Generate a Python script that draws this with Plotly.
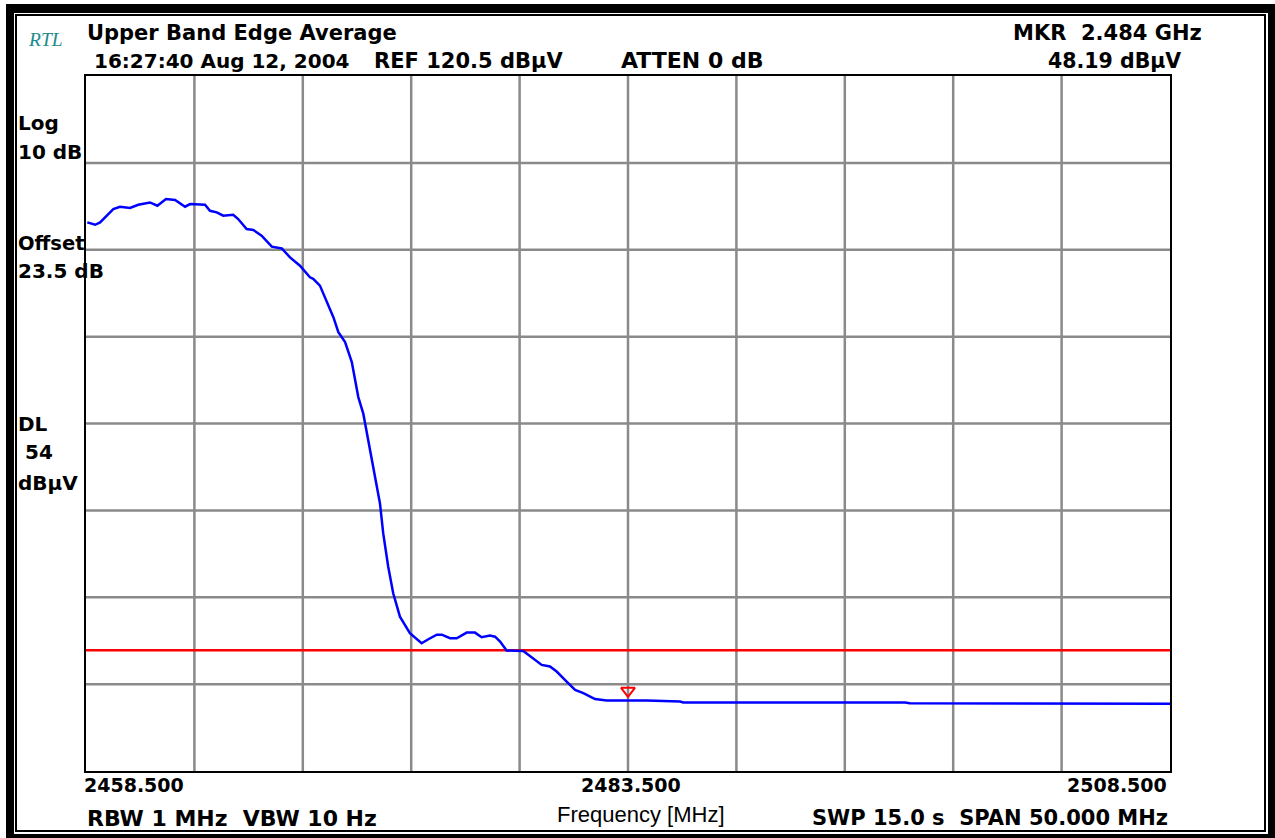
import plotly.graph_objects as go

# ---- data ----
freq_mhz = [2458.56, 2458.92, 2459.15, 2459.76, 2460.07, 2460.53, 2460.91, 2461.45, 2461.79, 2462.19,
            2462.61, 2463.07, 2463.30, 2463.99, 2464.22, 2464.53, 2464.83, 2465.29, 2465.52, 2465.91,
            2466.22, 2466.60, 2467.07, 2467.53, 2467.91, 2468.37, 2468.83, 2468.98, 2469.29, 2469.60,
            2469.91, 2470.14, 2470.45, 2470.76, 2471.06, 2471.29, 2471.60, 2471.83, 2472.06, 2472.21,
            2472.44, 2472.67, 2472.98, 2473.44, 2473.98, 2474.29, 2474.68, 2474.91, 2475.29, 2475.60,
            2476.06, 2476.44, 2476.75, 2477.13, 2477.37, 2477.60, 2477.90, 2478.67, 2479.13, 2479.52,
            2479.90, 2480.21, 2480.67, 2481.06, 2481.44, 2481.75, 2481.98, 2482.52, 2483.44, 2484.36,
            2485.90, 2486.05, 2486.82, 2496.28, 2496.50, 2508.50]
level_dbuv = [103.54, 103.27, 103.54, 105.09, 105.36, 105.21, 105.59, 105.85, 105.47, 106.25,
              106.13, 105.36, 105.67, 105.59, 104.89, 104.70, 104.32, 104.43, 103.93, 102.78,
              102.66, 102.00, 100.73, 100.53, 99.49, 98.53, 97.18, 97.00, 96.22, 94.49,
              92.56, 90.82, 89.67, 87.36, 83.31, 81.39, 77.15, 73.68, 70.99, 67.52,
              63.66, 60.58, 57.88, 55.96, 54.80, 55.26, 55.79, 55.79, 55.38, 55.38,
              56.03, 56.03, 55.49, 55.68, 55.56, 54.99, 53.95, 53.91, 53.07, 52.29,
              52.10, 51.52, 50.36, 49.40, 49.02, 48.63, 48.33, 48.17, 48.19, 48.17,
              48.05, 47.93, 47.93, 47.93, 47.84, 47.78]

display_line_dbuv = 54.0
marker_freq_mhz = 2483.5
marker_level_dbuv = 48.19
start_mhz = 2458.5
stop_mhz = 2508.5
ref_level = 120.5
bottom_level = 40.0
x_tick_labels = ["2458.500", "2483.500", "2508.500"]
x_tick_values = [2458.5, 2483.5, 2508.5]
n_xdiv = 10
n_ydiv = 8

W, H = 1275, 838
L, R, T, B = 86, 1170, 76, 771


def px(x):
    return (x - L) / (R - L)


def py(y):
    return (B - y) / (B - T)


fig = go.Figure()

fig.add_trace(go.Scatter(x=[start_mhz, stop_mhz], y=[display_line_dbuv, display_line_dbuv],
                         mode="lines", line=dict(color="#ff0000", width=2.5),
                         hoverinfo="skip", showlegend=False))
fig.add_trace(go.Scatter(x=freq_mhz, y=level_dbuv, mode="lines",
                         line=dict(color="#0000ff", width=2.5), showlegend=False))
fig.add_trace(go.Scatter(x=[marker_freq_mhz], y=[marker_level_dbuv + 1.1], mode="markers",
                         marker=dict(symbol="triangle-down-open", size=12, color="#ff0000",
                                     line=dict(width=2, color="#ff0000")),
                         showlegend=False))

shapes = []
grid_col = "#8a8a8a"
for k in range(1, n_xdiv):
    shapes.append(dict(type="line", xref="x domain", yref="y domain", x0=k / n_xdiv, x1=k / n_xdiv,
                       y0=0, y1=1, line=dict(color=grid_col, width=2.5), layer="below"))
for k in range(1, n_ydiv):
    shapes.append(dict(type="line", xref="x domain", yref="y domain", x0=0, x1=1,
                       y0=k / n_ydiv, y1=k / n_ydiv, line=dict(color=grid_col, width=2.5), layer="below"))


def rect(x0, y0, x1, y1):
    shapes.append(dict(type="rect", xref="paper", yref="paper", x0=px(x0), x1=px(x1),
                       y0=py(y0), y1=py(y1), fillcolor="black", line=dict(width=0), layer="above"))


# thick outer frame
rect(6, 4, 1275, 13)
rect(6, 4, 14, 838)
rect(1268, 4, 1275, 838)
rect(6, 834, 1275, 838)
# thin inner frame
rect(15, 14, 1266, 16)
rect(15, 14, 17, 832)
rect(1264, 14, 1266, 832)
rect(15, 830, 1266, 832)

fig.update_layout(shapes=shapes)

FONT = "DejaVu Sans"
ann = []


def text(s, x, y, size, anchor="left", bold=True, family=FONT, color="black"):
    ann.append(dict(text=("<b>%s</b>" % s) if bold else s, x=px(x), y=py(y), xref="paper", yref="paper",
                    xanchor=anchor, yanchor="middle", showarrow=False,
                    font=dict(family=family, size=size, color=color)))


text("<i>RTL</i>", 26, 40, 19.5, bold=False, family="Liberation Serif", color="#1a8c8c")
text("Upper Band Edge Average", 85, 33, 21)
text("16:27:40 Aug 12, 2004", 92, 61, 20)
text("REF 120.5 dBµV", 372, 61, 21)
text("ATTEN 0 dB", 619, 61, 22)
text("MKR  2.484 GHz", 1204, 33, 21, anchor="right")
text("48.19 dBµV", 1183, 61, 20.5, anchor="right")

text("Log", 16, 123, 20)
text("10 dB", 16, 152, 20)
text("Offset", 16, 243, 19.5)
text("23.5 dB", 16, 271, 20)
text("DL", 16, 424, 20)
text(" 54", 16, 452, 20)
text("dBµV", 16, 483, 20)

text(x_tick_labels[0], 82, 785, 19)
text(x_tick_labels[1], L + (x_tick_values[1] - start_mhz) / (stop_mhz - start_mhz) * (R - L) + 3, 785, 19, anchor="center")
text(x_tick_labels[2], 1169, 785, 19, anchor="right")

text("RBW 1 MHz  VBW 10 Hz", 85, 818, 22)
text("Frequency [MHz]", 641, 815, 22, anchor="center", bold=False, family="Liberation Sans")
text("SWP 15.0 s  SPAN 50.000 MHz", 1170, 818, 21, anchor="right")

fig.update_layout(
    width=W, height=H,
    margin=dict(l=L, r=W - R, t=T, b=H - B, pad=0),
    paper_bgcolor="white", plot_bgcolor="white",
    showlegend=False,
    annotations=ann,
    xaxis=dict(range=[start_mhz, stop_mhz], showgrid=False, zeroline=False, showticklabels=False,
               ticks="", showline=True, linecolor="black", linewidth=2, mirror=True, fixedrange=True),
    yaxis=dict(range=[bottom_level, ref_level], showgrid=False, zeroline=False, showticklabels=False,
               ticks="", showline=True, linecolor="black", linewidth=2, mirror=True, fixedrange=True),
)

fig.write_html("out.html", config=dict(displayModeBar=False),
               post_script="document.body.style.margin='0';document.body.style.overflow='hidden';")
